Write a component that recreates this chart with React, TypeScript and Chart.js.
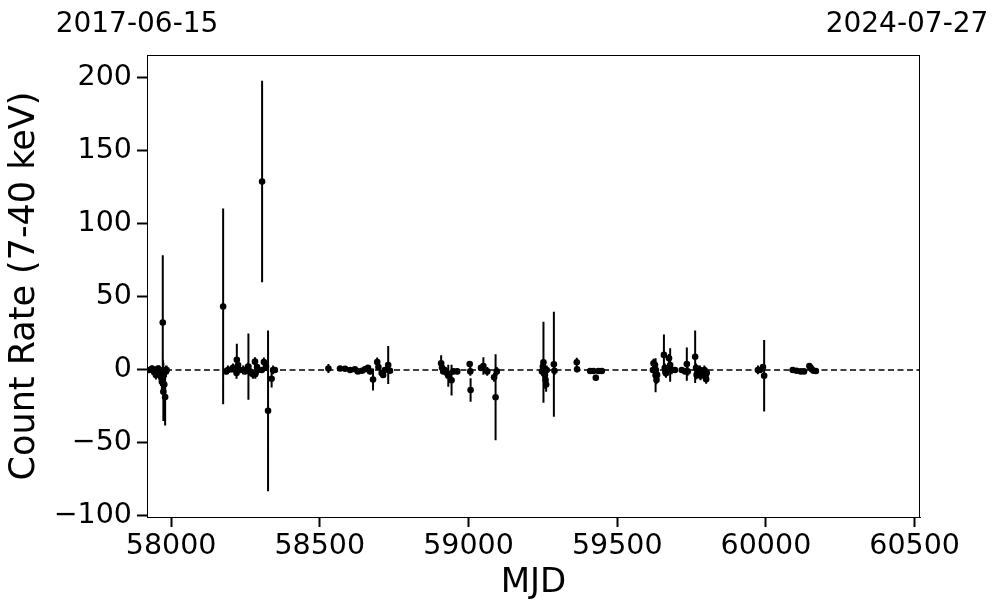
import { useEffect, useRef } from "react";
import { Chart, registerables } from "chart.js";

Chart.register(...registerables);

// Observation dates (MJD)
const MJD = [
  57926, 57936, 57943, 57949, 57956, 57960, 57964, 57966, 57969, 57972, 57973, 57974, 57977, 57980, 57983, 57985,
  58175, 58185, 58191, 58204, 58208, 58221, 58220, 58225, 58232, 58242, 58248, 58258, 58260, 58265, 58275, 58282,
  58283, 58289, 58292, 58305, 58306, 58312, 58319, 58326, 58338, 58343, 58349,
  58529, 58568, 58585, 58602, 58618, 58628, 58642, 58652, 58662, 58669, 58679, 58693, 58697, 58708, 58713, 58719,
  58730, 58736,
  58908, 58911, 58915, 58920, 58927, 58932, 58943, 58949, 58962, 59004, 59006, 59007, 59042, 59050, 59063, 59086,
  59091, 59095,
  59247, 59250, 59252, 59254, 59256, 59257, 59259, 59261, 59263, 59287, 59289, 59364, 59365, 59409, 59420, 59428,
  59437, 59448,
  59620, 59622, 59627, 59629, 59630, 59632, 59634, 59657, 59660, 59662, 59664, 59666, 59674, 59678, 59683, 59694,
  59717, 59728, 59734, 59737, 59762, 59765, 59767, 59778, 59780, 59784, 59793, 59795, 59797, 59799, 59801,
  59973, 59980, 59990, 59994,
  60090, 60103, 60117, 60128, 60146, 60150, 60154, 60160, 60168,
];

// Count rate (7-40 keV)
const RATE = [
  0, 1, -1.5, -3.5, 1, 0, -2, -5, -8, 32.5, -3, -15, -10, -18.5, -1, 0,
  43.5, -1, 0, 0.5, 1.5, 7, -2, 3.4, 0, 0, -1, 2, 2.3, -1, -3, 5.7,
  -3, 2, 0, 0, 129, 5.5, 2.3, -28, -6, 0, 0,
  1, 1, 0.8, 0, 0.5, -1, -0.5, 0.5, 1.5, -1, -6.5, 5.5, 2, -2, -3.5, 0,
  3.4, -0.5,
  4.6, 1.5, -1, 0, -2, -4, -7, -1, -1, 4, -1, -13.7, 1.4, 2.7, -1, -5,
  -18.7, -1,
  -1, 2.3, 5.3, 0, -1, -3.4, -6.8, -10, 0, 3.9, -0.5, 5.3, 0.5, -0.7, -0.7, -5.3,
  -0.7, -0.7,
  0, 4.6, 3.4, -3.6, 0, -6.8, -3.4, 10.3, 1.4, -1.4, -2.3, 0, 8, 3.4, 0, 0,
  0, -1, 4, -1, 9, 1.4, -3.4, 0, -4, -1.4, 0, -2.3, -4.6, -6.4, -2,
  0, 0, 2, -4,
  0, -0.5, -1, -1, 2.7, 1.5, 0.5, -0.5, -0.7,
];

// 1-sigma uncertainty on the count rate
const RATE_ERR = [
  2, 2, 3, 3, 2, 3, 4, 6, 8, 46, 10, 20, 12, 19.5, 4, 3,
  67, 2, 3, 2, 3, 11, 4, 3, 2, 3, 2, 3, 22.7, 3, 3, 3,
  3, 2, 3, 2, 69, 3, 3, 55, 6, 3, 2,
  3, 1, 1, 1, 1, 1.5, 1.5, 1, 1.5, 2, 7.5, 3, 2, 2, 2, 2,
  13, 2,
  5.5, 2, 2, 2, 3, 7.5, 10.5, 2, 2, 2, 3, 8, 2, 6, 3, 3,
  29.5, 3,
  3, 3, 27.7, 4, 4, 5, 6, 5, 3, 36, 3, 3, 2, 2, 2, 2,
  2, 2,
  2, 3, 3, 11.6, 3, 3, 3, 14, 3, 3, 3, 3, 3, 11.4, 3, 2,
  2, 2, 11.4, 3, 18, 3, 3, 3, 3, 3, 3, 3, 3, 3, 3,
  3, 2, 2, 24.5,
  1.5, 1.5, 1.5, 1.5, 1.5, 1.5, 1.5, 1.5, 1.5,
];

const X_RANGE = [57919, 60518];
const Y_RANGE = [-100.7, 215.7];
const X_TICKS = [58000, 58500, 59000, 59500, 60000, 60500];
const Y_TICKS = [-100, -50, 0, 50, 100, 150, 200];
const DATE_LABELS = ["2017-06-15", "2024-07-27"];
const X_TITLE = "MJD";
const Y_TITLE = "Count Rate (7-40 keV)";

const FONT = "'DejaVu Sans', sans-serif";

const framePlugin = {
  id: "frameAndDates",
  afterDraw(chart: any) {
    const { ctx, chartArea } = chart;
    ctx.save();
    ctx.strokeStyle = "#000";
    ctx.lineWidth = 1;
    ctx.strokeRect(chartArea.left + 0.5, chartArea.top + 0.5, chartArea.right - chartArea.left - 1, chartArea.bottom - chartArea.top);
    ctx.fillStyle = "#000";
    ctx.font = `28px ${FONT}`;
    ctx.textAlign = "center";
    ctx.textBaseline = "alphabetic";
    ctx.fillText(DATE_LABELS[0], chartArea.left - 10, 32);
    ctx.fillText(DATE_LABELS[1], chartArea.right - 13, 32);
    ctx.restore();
  },
};

export default function App() {
  const ref = useRef<HTMLCanvasElement | null>(null);

  useEffect(() => {
    if (!ref.current) return;
    const points = MJD.map((x, i) => ({ x, y: RATE[i] }));
    const bars: any[] = [];
    MJD.forEach((x, i) => {
      bars.push({ x, y: RATE[i] - RATE_ERR[i] });
      bars.push({ x, y: RATE[i] + RATE_ERR[i] });
      bars.push({ x, y: null });
    });
    const zero = [
      { x: X_RANGE[0], y: 0 },
      { x: X_RANGE[1], y: 0 },
    ];

    const chart = new Chart(ref.current, {
      type: "scatter",
      data: {
        datasets: [
          {
            data: points,
            pointRadius: 3.3,
            pointBackgroundColor: "#000",
            pointBorderWidth: 0,
            showLine: false,
          } as any,
          {
            data: bars,
            showLine: true,
            borderColor: "#000",
            borderWidth: 2,
            pointRadius: 0,
            spanGaps: false,
          } as any,
          {
            data: zero,
            showLine: true,
            borderColor: "#000",
            borderWidth: 1.5,
            borderDash: [6, 3.5],
            pointRadius: 0,
          } as any,
        ],
      },
      options: {
        animation: false,
        responsive: false,
        maintainAspectRatio: false,
        layout: { padding: { top: 55, right: 77, left: 0, bottom: 0 } },
        plugins: { legend: { display: false }, tooltip: { enabled: false } },
        scales: {
          x: {
            type: "linear",
            min: X_RANGE[0],
            max: X_RANGE[1],
            afterBuildTicks: (s: any) => {
              s.ticks = X_TICKS.map((v) => ({ value: v }));
            },
            afterFit: (s: any) => {
              s.height = 96;
            },
            grid: { drawOnChartArea: false, drawTicks: true, tickLength: 10, tickWidth: 2, color: "#000" },
            border: { display: true, color: "#000", width: 1 },
            ticks: {
              font: { family: FONT, size: 28.5 },
              color: "#000",
              padding: 2,
              maxRotation: 0,
              autoSkip: false,
              callback: (v: any) => String(v),
            },
            title: {
              display: true,
              text: X_TITLE,
              font: { family: FONT, size: 34 },
              color: "#000",
              padding: { top: 0, bottom: 9 },
            },
          },
          y: {
            type: "linear",
            min: Y_RANGE[0],
            max: Y_RANGE[1],
            afterBuildTicks: (s: any) => {
              s.ticks = Y_TICKS.map((v) => ({ value: v }));
            },
            afterFit: (s: any) => {
              s.width = 147;
            },
            grid: { drawOnChartArea: false, drawTicks: true, tickLength: 10, tickWidth: 2, color: "#000" },
            border: { display: true, color: "#000", width: 1 },
            ticks: {
              font: { family: FONT, size: 28.5 },
              color: "#000",
              padding: 5,
              autoSkip: false,
              callback: (v: any) => String(v).replace("-", "\u2212"),
            },
            title: {
              display: true,
              text: Y_TITLE,
              font: { family: FONT, size: 35 },
              color: "#000",
              padding: { top: 4, bottom: 0 },
            },
          },
        },
      },
      plugins: [framePlugin],
    });
    return () => chart.destroy();
  }, []);

  return (
    <div style={{ position: "absolute", left: 0, top: 0, width: 997, height: 613, background: "#fff" }}>
      <canvas ref={ref} width={997} height={613} style={{ display: "block" }} />
    </div>
  );
}
